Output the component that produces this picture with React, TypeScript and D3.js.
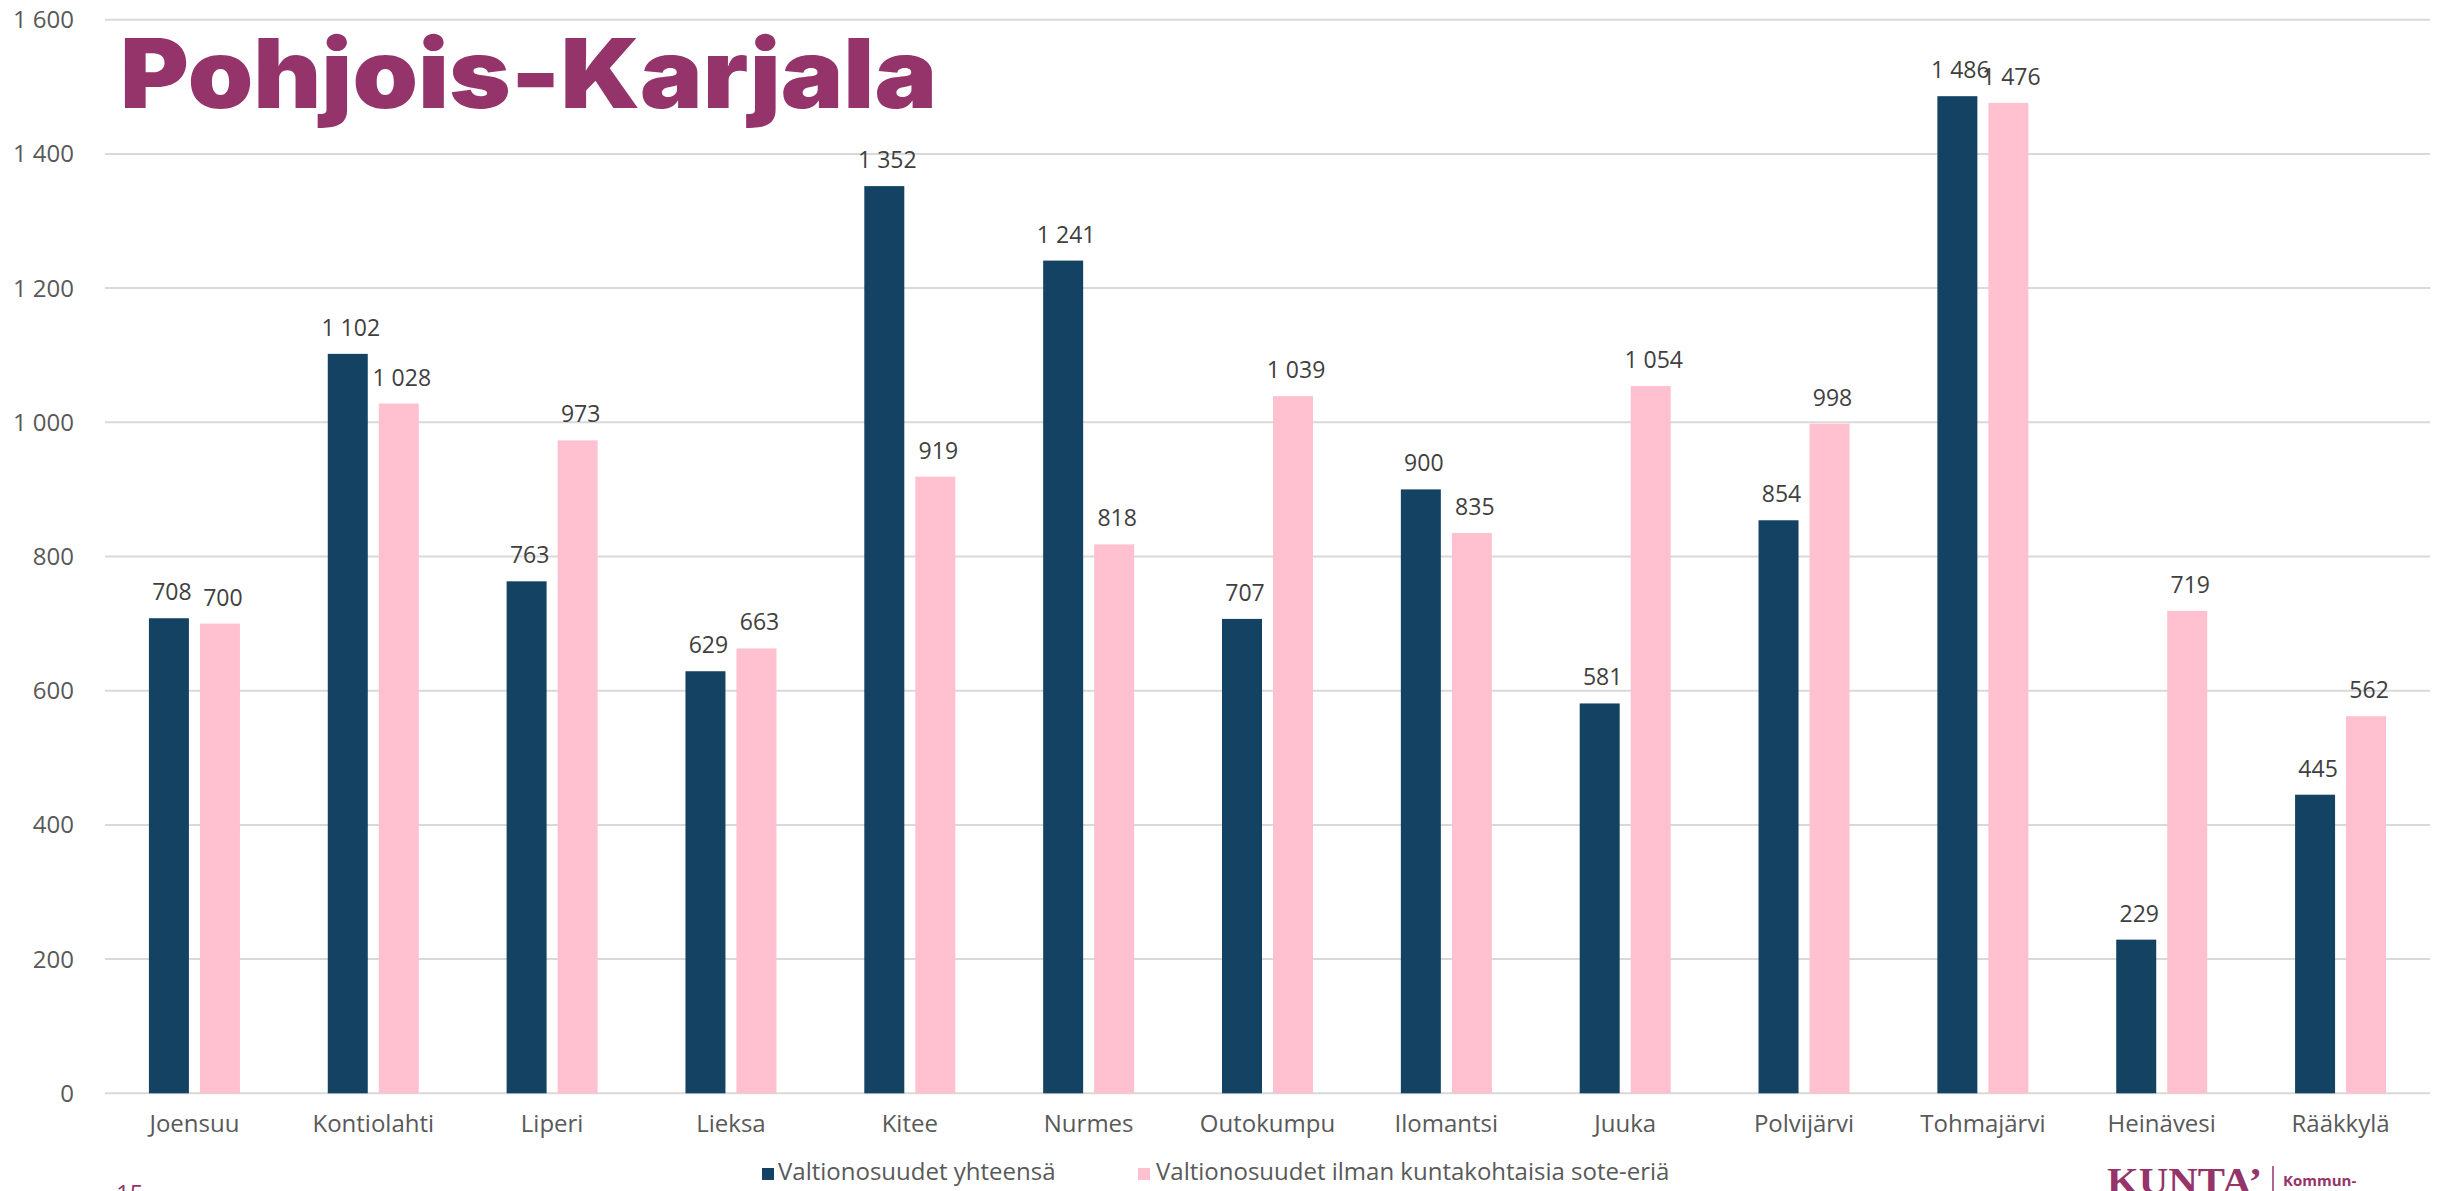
import React from "react";
import * as d3 from "d3";

const categories = ["Joensuu","Kontiolahti","Liperi","Lieksa","Kitee","Nurmes","Outokumpu","Ilomantsi","Juuka","Polvijärvi","Tohmajärvi","Heinävesi","Rääkkylä"];
const valtionosuudetYhteensa = [708,1102,763,629,1352,1241,707,900,581,854,1486,229,445];
const valtionosuudetIlmanSote = [700,1028,973,663,919,818,1039,835,1054,998,1476,719,562];
const yTicks = [0,200,400,600,800,1000,1200,1400,1600];
const seriesNames = ["Valtionosuudet yhteensä","Valtionosuudet ilman kuntakohtaisia sote-eriä"];
const seriesColors = ["#134263","#FFC0CF"];
const titleText = "Pohjois-Karjala";

const W = 2443, H = 1191;
const plotLeft = 105, plotRight = 2430, plotTop = 19.7, plotBottom = 1093.3;

const fmt = d3.formatLocale({ decimal: ",", thousands: " ", grouping: [3], currency: ["", ""] }).format(",d");

export default function App() {
  const x = d3.scaleBand<string>().domain(categories).range([plotLeft, plotRight]).padding(0);
  const y = d3.scaleLinear().domain([0, 1600]).range([plotBottom, plotTop]);
  const xs = d3.scaleBand<number>().domain([0, 1]).range([-45.5, 45.5]).paddingInner(0.216);
  const series = [valtionosuudetYhteensa, valtionosuudetIlmanSote];
  const font = "'Open Sans', 'Noto Sans', sans-serif";
  const purple = "#94346A";

  return (
    <svg width={W} height={H} style={{ position: "absolute", left: 0, top: 0, background: "#fff" }} fontFamily={font}>
      <rect x={0} y={0} width={W} height={H} fill="#fff" />
      {yTicks.map((t) => (
        <g key={t}>
          <line x1={plotLeft} x2={plotRight} y1={y(t)} y2={y(t)} stroke="#d9d9d9" strokeWidth={2} />
          <text x={74} y={y(t)} dy="0.35em" textAnchor="end" fontSize={24} fill="#595959">{fmt(t)}</text>
        </g>
      ))}
      {categories.map((c, i) => {
        const cx = (x(c) as number) + x.bandwidth() / 2;
        return (
          <g key={c}>
            {series.map((s, j) => {
              const bx = cx + (xs(j) as number);
              return (
                <g key={j}>
                  <rect x={bx} y={y(s[i])} width={xs.bandwidth()} height={y(0) - y(s[i])} fill={seriesColors[j]} />
                  <text x={bx + xs.bandwidth() / 2 + 3} y={y(s[i]) - 18} textAnchor="middle" fontSize={23} fill="#404040">{fmt(s[i])}</text>
                </g>
              );
            })}
            <text x={cx} y={1132} textAnchor="middle" fontSize={24} fill="#595959">{c}</text>
          </g>
        );
      })}
      <text x={120} y={108} fontSize={96} fontWeight={900} fill={purple} fontFamily="Inter, 'Open Sans', sans-serif" textLength={817} lengthAdjust="spacingAndGlyphs">{titleText}</text>
      {/* legend */}
      <rect x={762} y={1168} width={12} height={12} fill={seriesColors[0]} />
      <text x={778} y={1180} fontSize={24} fill="#595959">{seriesNames[0]}</text>
      <rect x={1138} y={1168} width={12} height={12} fill={seriesColors[1]} />
      <text x={1156} y={1180} fontSize={24} fill="#595959">{seriesNames[1]}</text>
      {/* footer */}
      <text x={116} y={1202} fontSize={24} fill={purple}>15</text>
      <text x={2107} y={1194} fontSize={38} fontWeight={700} fill={purple} fontFamily="'Liberation Serif', serif" textLength={155} lengthAdjust="spacingAndGlyphs">KUNTA’</text>
      <line x1={2273} x2={2273} y1={1166} y2={1191} stroke={purple} strokeWidth={1.5} />
      <text x={2283} y={1186} fontSize={15} fontWeight={700} fill={purple} fontFamily="'Open Sans', sans-serif">Kommun-</text>
    </svg>
  );
}
